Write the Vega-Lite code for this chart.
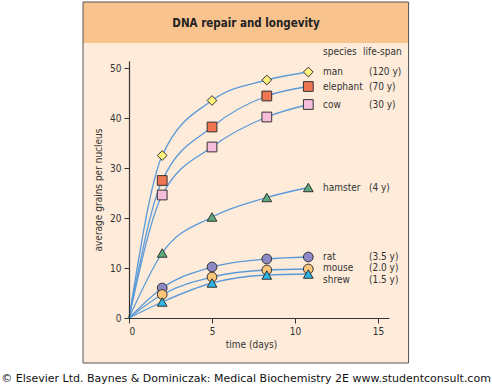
{
  "$schema": "https://vega.github.io/schema/vega-lite/v6.json",
  "width": 260,
  "height": 257,
  "autosize": "none",
  "padding": {"left": 129, "top": 61, "right": 103, "bottom": 67},
  "background": "white",
  "config": {
    "view": {"stroke": null},
    "font": "DejaVu Sans Condensed, Open Sans",
    "axis": {"zindex": 1, "grid": false, "domainColor": "#333", "tickColor": "#333", "labelColor": "#333", "titleColor": "#333", "labelFont": "DejaVu Sans Condensed, Open Sans", "titleFont": "DejaVu Sans Condensed, Open Sans", "labelFontSize": 10, "titleFontSize": 10, "titleFontWeight": "normal", "tickSize": 5, "domainWidth": 1.2}
  },
  "datasets": {
    "deco": [{"k": 1}],
    "obs": [
      {"species": "man", "lifespan": "(120 y)", "day": 0, "grains": 0},
      {"species": "man", "lifespan": "(120 y)", "day": 2, "grains": 32.5},
      {"species": "man", "lifespan": "(120 y)", "day": 5, "grains": 43.5},
      {"species": "man", "lifespan": "(120 y)", "day": 8.3, "grains": 47.6},
      {"species": "man", "lifespan": "(120 y)", "day": 10.8, "grains": 49.2},
      {"species": "elephant", "lifespan": "(70 y)", "day": 0, "grains": 0},
      {"species": "elephant", "lifespan": "(70 y)", "day": 2, "grains": 27.5},
      {"species": "elephant", "lifespan": "(70 y)", "day": 5, "grains": 38.2},
      {"species": "elephant", "lifespan": "(70 y)", "day": 8.3, "grains": 44.4},
      {"species": "elephant", "lifespan": "(70 y)", "day": 10.8, "grains": 46.3},
      {"species": "cow", "lifespan": "(30 y)", "day": 0, "grains": 0},
      {"species": "cow", "lifespan": "(30 y)", "day": 2, "grains": 24.6},
      {"species": "cow", "lifespan": "(30 y)", "day": 5, "grains": 34.2},
      {"species": "cow", "lifespan": "(30 y)", "day": 8.3, "grains": 40.2},
      {"species": "cow", "lifespan": "(30 y)", "day": 10.8, "grains": 42.7},
      {"species": "hamster", "lifespan": "(4 y)", "day": 0, "grains": 0},
      {"species": "hamster", "lifespan": "(4 y)", "day": 2, "grains": 13},
      {"species": "hamster", "lifespan": "(4 y)", "day": 5, "grains": 20.2},
      {"species": "hamster", "lifespan": "(4 y)", "day": 8.3, "grains": 24.1},
      {"species": "hamster", "lifespan": "(4 y)", "day": 10.8, "grains": 26.1},
      {"species": "rat", "lifespan": "(3.5 y)", "day": 0, "grains": 0},
      {"species": "rat", "lifespan": "(3.5 y)", "day": 2, "grains": 6},
      {"species": "rat", "lifespan": "(3.5 y)", "day": 5, "grains": 10.2},
      {"species": "rat", "lifespan": "(3.5 y)", "day": 8.3, "grains": 11.8},
      {"species": "rat", "lifespan": "(3.5 y)", "day": 10.8, "grains": 12.2},
      {"species": "mouse", "lifespan": "(2.0 y)", "day": 0, "grains": 0},
      {"species": "mouse", "lifespan": "(2.0 y)", "day": 2, "grains": 4.7},
      {"species": "mouse", "lifespan": "(2.0 y)", "day": 5, "grains": 8.2},
      {"species": "mouse", "lifespan": "(2.0 y)", "day": 8.3, "grains": 9.6},
      {"species": "mouse", "lifespan": "(2.0 y)", "day": 10.8, "grains": 9.8},
      {"species": "shrew", "lifespan": "(1.5 y)", "day": 0, "grains": 0},
      {"species": "shrew", "lifespan": "(1.5 y)", "day": 2, "grains": 3.2},
      {"species": "shrew", "lifespan": "(1.5 y)", "day": 5, "grains": 7},
      {"species": "shrew", "lifespan": "(1.5 y)", "day": 8.3, "grains": 8.6},
      {"species": "shrew", "lifespan": "(1.5 y)", "day": 10.8, "grains": 8.8}
    ]
  },
  "layer": [
    {
      "data": {"name": "deco"},
      "mark": {"type": "rect", "fill": "#FEEBD9", "clip": false},
      "encoding": {
        "x": {"datum": -2.77, "type": "quantitative", "scale": {"domain": [0, 15.66], "nice": false, "zero": false},
          "axis": {"zindex": 1, "values": [0, 5, 10, 15], "title": "time (days)", "titleX": 122, "labelPadding": 3, "titlePadding": 3}},
        "x2": {"datum": 16.84},
        "y": {"datum": 63.2, "type": "quantitative", "scale": {"domain": [0, 51.4], "nice": false, "zero": false},
          "axis": {"zindex": 1, "values": [0, 10, 20, 30, 40, 50], "title": "average grains per nucleus", "titlePadding": 6, "labelPadding": 3}},
        "y2": {"datum": -9}
      }
    },
    {
      "data": {"name": "deco"},
      "mark": {"type": "rect", "fill": "#F9C38E", "clip": false},
      "encoding": {"x": {"datum": -2.77, "type": "quantitative"}, "x2": {"datum": 16.84}, "y": {"datum": 63.2, "type": "quantitative"}, "y2": {"datum": 55}}
    },
    {
      "data": {"name": "deco"},
      "mark": {"type": "rect", "fillOpacity": 0, "stroke": "#555", "strokeWidth": 1, "clip": false},
      "encoding": {"x": {"datum": -2.77, "type": "quantitative"}, "x2": {"datum": 16.84}, "y": {"datum": 63.2, "type": "quantitative"}, "y2": {"datum": -9}}
    },
    {
      "data": {"name": "deco"},
      "mark": {"type": "text", "text": "DNA repair and longevity", "fontWeight": "bold", "fontSize": 11.5, "color": "#222", "align": "center", "baseline": "middle"},
      "encoding": {"x": {"datum": 7.05, "type": "quantitative"}, "y": {"datum": 58.8, "type": "quantitative"}}
    },
    {
      "data": {"name": "deco"},
      "mark": {"type": "text", "text": "© Elsevier Ltd. Baynes & Dominiczak: Medical Biochemistry 2E www.studentconsult.com", "font": "DejaVu Sans", "fontSize": 11, "color": "#111", "align": "center", "baseline": "middle"},
      "encoding": {"x": {"datum": 7.05, "type": "quantitative"}, "y": {"datum": -12.2, "type": "quantitative"}}
    },
    {
      "data": {"name": "deco"},
      "mark": {"type": "text", "text": "species", "fontSize": 10, "color": "#333", "align": "left", "baseline": "middle"},
      "encoding": {"x": {"datum": 11.69, "type": "quantitative"}, "y": {"datum": 53.2, "type": "quantitative"}}
    },
    {
      "data": {"name": "deco"},
      "mark": {"type": "text", "text": "life-span", "fontSize": 10, "color": "#333", "align": "left", "baseline": "middle"},
      "encoding": {"x": {"datum": 14.1, "type": "quantitative"}, "y": {"datum": 53.2, "type": "quantitative"}}
    },
    {
      "data": {"name": "obs"},
      "mark": {"type": "line", "interpolate": "monotone", "color": "#5A9AD8", "strokeWidth": 1.3},
      "encoding": {
        "x": {"field": "day", "type": "quantitative", "axis": {"zindex": 1}},
        "y": {"field": "grains", "type": "quantitative", "axis": {"zindex": 1}},
        "detail": {"field": "species"}
      }
    },
    {
      "data": {"name": "obs"},
      "transform": [{"filter": "datum.day > 0"}],
      "mark": {"type": "point", "filled": true, "stroke": "#333", "strokeWidth": 1, "opacity": 1, "size": 95},
      "encoding": {
        "x": {"field": "day", "type": "quantitative"},
        "y": {"field": "grains", "type": "quantitative"},
        "shape": {"field": "species", "scale": {"domain": ["man", "elephant", "cow", "hamster", "rat", "mouse", "shrew"], "range": ["diamond", "square", "square", "triangle-up", "circle", "circle", "triangle-up"]}, "legend": null},
        "fill": {"field": "species", "scale": {"domain": ["man", "elephant", "cow", "hamster", "rat", "mouse", "shrew"], "range": ["#FFF27C", "#EF7650", "#F6BCDC", "#5EA97B", "#8D88C6", "#FBC57A", "#2FB4E6"]}, "legend": null}
      }
    },
    {
      "data": {"name": "obs"},
      "transform": [{"filter": "datum.day == 10.8 && datum.species != 'shrew' && datum.species != 'mouse'"}],
      "mark": {"type": "text", "fontSize": 10, "color": "#333", "align": "left", "baseline": "middle"},
      "encoding": {"x": {"datum": 11.69, "type": "quantitative"}, "y": {"field": "grains", "type": "quantitative"}, "text": {"field": "species"}}
    },
    {
      "data": {"name": "obs"},
      "transform": [{"filter": "datum.day == 10.8 && datum.species != 'shrew' && datum.species != 'mouse'"}],
      "mark": {"type": "text", "fontSize": 10, "color": "#333", "align": "left", "baseline": "middle"},
      "encoding": {"x": {"datum": 14.45, "type": "quantitative"}, "y": {"field": "grains", "type": "quantitative"}, "text": {"field": "lifespan"}}
    },
    {
      "data": {"name": "obs"},
      "transform": [{"filter": "datum.day == 10.8 && datum.species == 'mouse'"}],
      "mark": {"type": "text", "fontSize": 10, "color": "#333", "align": "left", "baseline": "middle", "dy": -1},
      "encoding": {"x": {"datum": 11.69, "type": "quantitative"}, "y": {"field": "grains", "type": "quantitative"}, "text": {"field": "species"}}
    },
    {
      "data": {"name": "obs"},
      "transform": [{"filter": "datum.day == 10.8 && datum.species == 'mouse'"}],
      "mark": {"type": "text", "fontSize": 10, "color": "#333", "align": "left", "baseline": "middle", "dy": -1},
      "encoding": {"x": {"datum": 14.45, "type": "quantitative"}, "y": {"field": "grains", "type": "quantitative"}, "text": {"field": "lifespan"}}
    },
    {
      "data": {"name": "obs"},
      "transform": [{"filter": "datum.day == 10.8 && datum.species == 'shrew'"}],
      "mark": {"type": "text", "fontSize": 10, "color": "#333", "align": "left", "baseline": "middle", "dy": 5.5},
      "encoding": {"x": {"datum": 11.69, "type": "quantitative"}, "y": {"field": "grains", "type": "quantitative"}, "text": {"field": "species"}}
    },
    {
      "data": {"name": "obs"},
      "transform": [{"filter": "datum.day == 10.8 && datum.species == 'shrew'"}],
      "mark": {"type": "text", "fontSize": 10, "color": "#333", "align": "left", "baseline": "middle", "dy": 5.5},
      "encoding": {"x": {"datum": 14.45, "type": "quantitative"}, "y": {"field": "grains", "type": "quantitative"}, "text": {"field": "lifespan"}}
    }
  ]
}
